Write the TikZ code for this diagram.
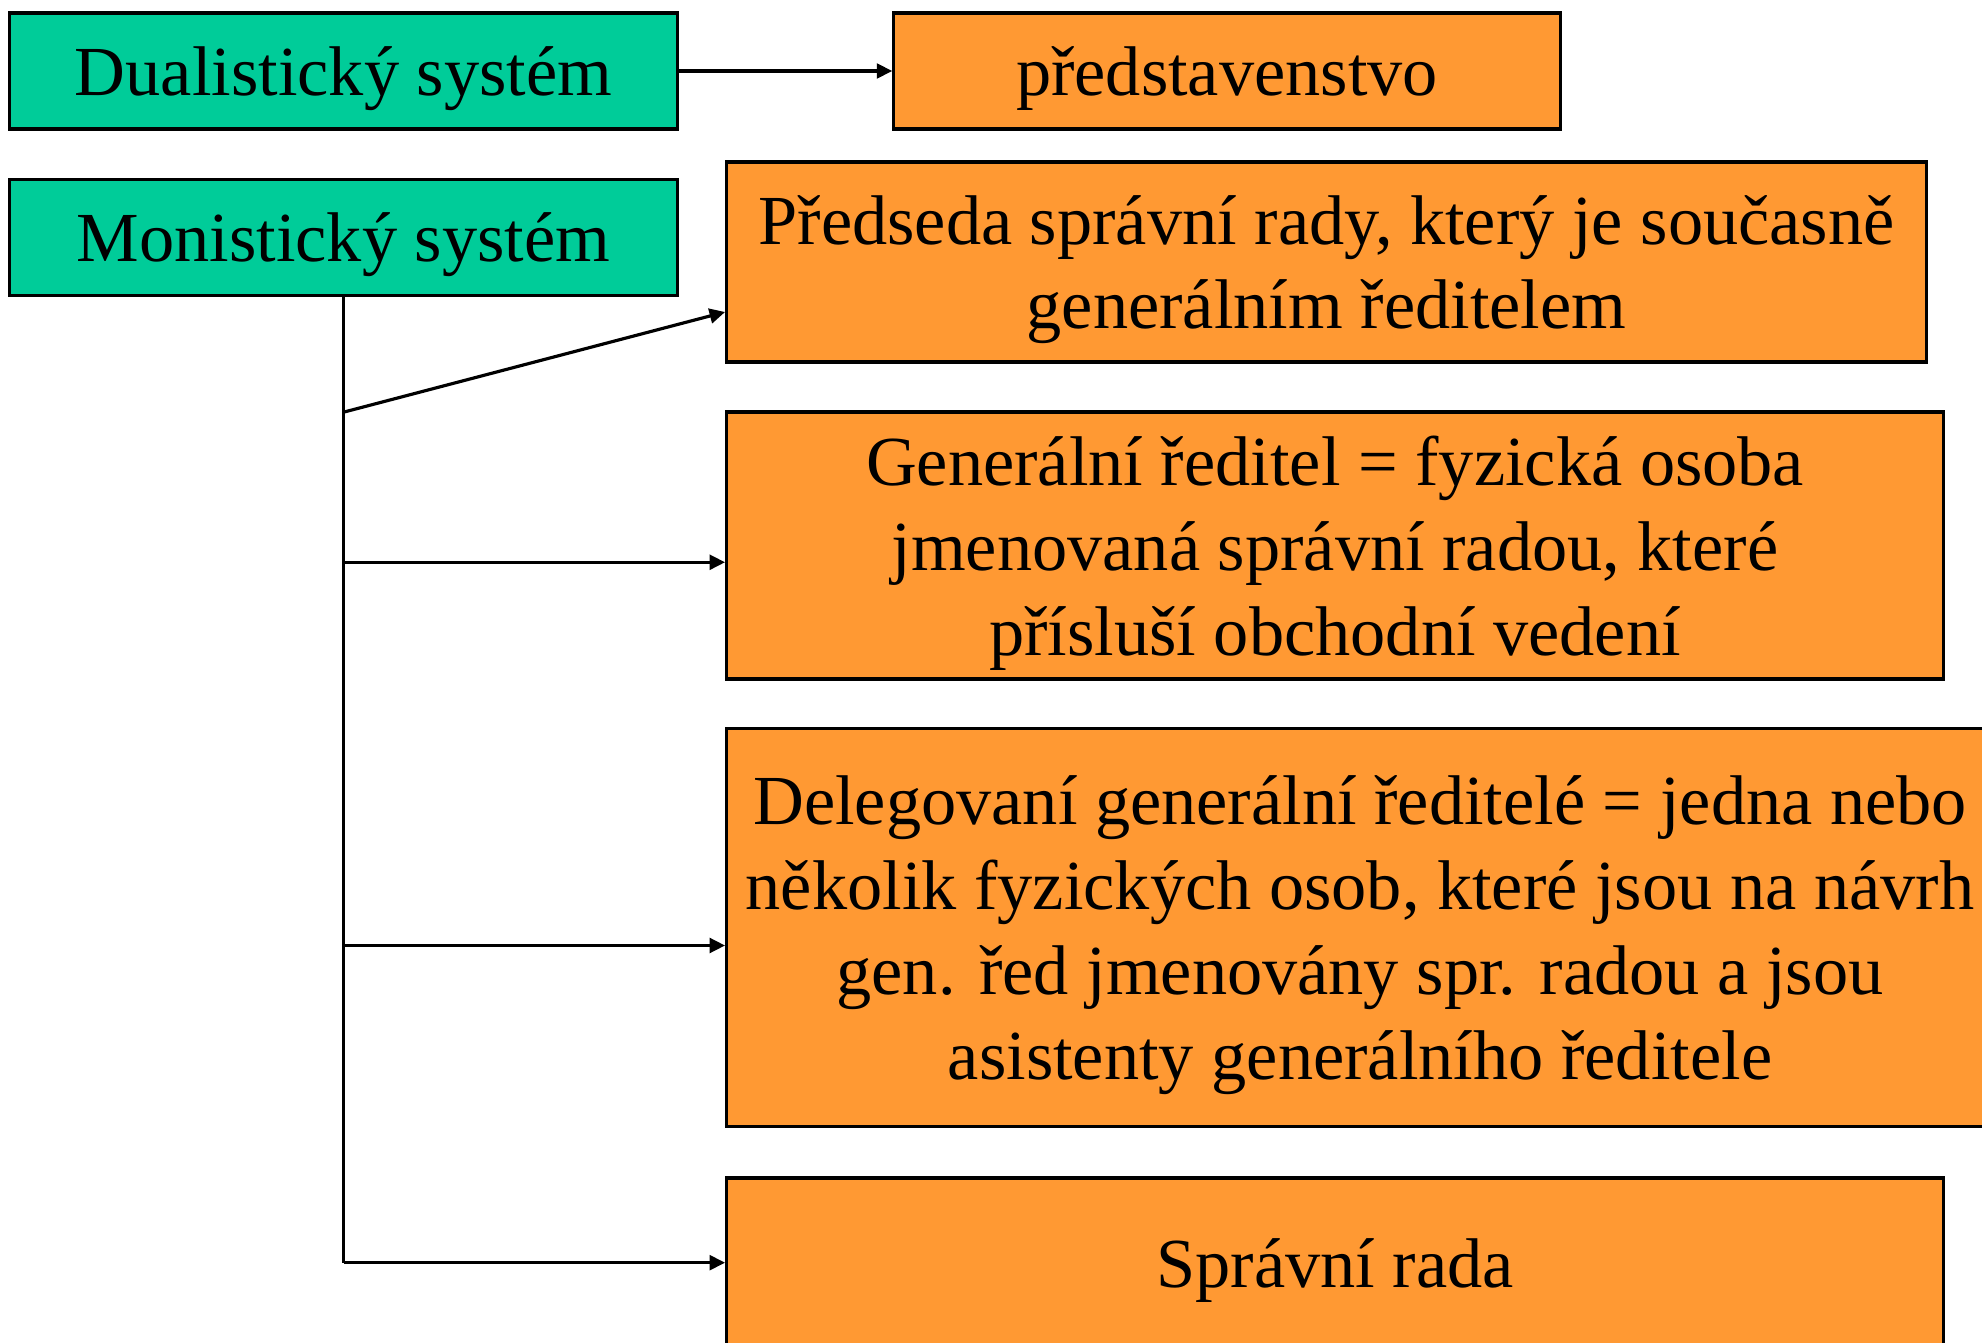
\documentclass[tikz,border=0pt]{standalone}
\usepackage{fontspec}
\setmainfont{Liberation Serif}
\usetikzlibrary{positioning,arrows.meta}
\definecolor{zelena}{RGB}{0,204,153}
\definecolor{oranzova}{RGB}{255,153,51}

\begin{document}
\begin{tikzpicture}[x=0.01cm, y=-0.01cm,
        box/.style={draw, line width=0.9pt, align=center, inner sep=0pt, text depth=0pt,
            font=\fontsize{20}{24.1}\selectfont},
        sys/.style={box, fill=zelena, minimum width=6.67cm, minimum height=1.16cm},
        org/.style={box, fill=oranzova},
        sipka/.style={-{Triangle[length=4.4pt, width=4.2pt]}, line width=0.9pt}]
    \useasboundingbox (0,0) rectangle (1982,1343);

    % systemy
    \node[sys] (dual) at (343.5,71) {Dualistický systém};
    \node[sys] (monist) at (343.5,237.5) {Monistický systém};

    % organy
    \node[org, minimum width=6.66cm, minimum height=1.16cm] (predst) at (1227,71) {představenstvo};
    \node[org, minimum width=11.99cm, minimum height=2cm] (predseda) at (1326.5,262)
        {Předseda správní rady, který je současně\\generálním ředitelem};
    \node[org, minimum width=12.16cm, minimum height=2.67cm] (generalni) at (1335,545.5)
        {Generální ředitel = fyzická osoba\\jmenovaná správní radou, které\\přísluší obchodní vedení};
    \node[org, minimum width=12.66cm, minimum height=3.97cm] (delegovani) at (1360,927.5)
        {Delegovaní generální ředitelé = jedna nebo\\několik fyzických osob, které jsou na návrh\\gen. řed jmenovány spr. radou a jsou\\asistenty generálního ředitele};
    \node[org, minimum width=12.16cm, minimum height=1.7cm] (sprava) at (1335,1263) {Správní rada};

    % vetve
    \coordinate[below=1.15cm of monist] (b1);
    \coordinate[below=2.65cm of monist] (b2);
    \coordinate[below=6.48cm of monist] (b3);
    \coordinate[below=9.65cm of monist] (b4);

    \draw[sipka] (dual) -- (predst);
    \draw[line width=0.9pt] (monist.south) -- (b4);
    \draw[sipka] (b1) -- ([yshift=-0.5cm]predseda.west);
    \draw[sipka] (b2) -- (b2 -| generalni.west);
    \draw[sipka] (b3) -- (b3 -| delegovani.west);
    \draw[sipka] (b4) -- (b4 -| sprava.west);
\end{tikzpicture}
\end{document}
